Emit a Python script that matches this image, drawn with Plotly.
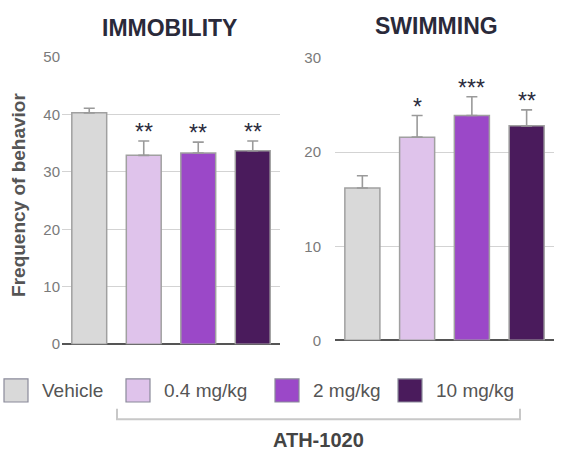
import plotly.graph_objects as go

groups = ["Vehicle", "0.4 mg/kg", "2 mg/kg", "10 mg/kg"]
colors = ["#d9d9d9", "#dfc3eb", "#9b48c8", "#4a1b5c"]

immobility_mean = [40.3, 32.9, 33.3, 33.7]
immobility_sem = [0.8, 2.5, 1.9, 1.7]
immobility_sig = ["", "**", "**", "**"]

swimming_mean = [16.2, 21.6, 23.9, 22.8]
swimming_sem = [1.3, 2.3, 2.0, 1.7]
swimming_sig = ["", "*", "***", "**"]

W, H = 566, 463
def px(x): return x / W
def py(y): return 1 - y / H

fig = go.Figure()

err_style = dict(type="data", symmetric=False, color="#9a9a9a", thickness=1.6, width=5.5)

fig.add_trace(go.Bar(
    x=groups, y=immobility_mean, marker=dict(color=colors, line=dict(color="#a0a0a0", width=1.5)),
    error_y=dict(array=immobility_sem, arrayminus=[0]*4, **err_style),
    xaxis="x", yaxis="y", showlegend=False, hoverinfo="skip"))
fig.add_trace(go.Bar(
    x=groups, y=swimming_mean, marker=dict(color=colors, line=dict(color="#a0a0a0", width=1.5)),
    error_y=dict(array=swimming_sem, arrayminus=[0]*4, **err_style),
    xaxis="x2", yaxis="y2", showlegend=False, hoverinfo="skip"))

tickfont = dict(family="Liberation Sans, Arial", size=15, color="#7a7a7a")
grid = "#d3d3d3"

fig.update_layout(
    width=W, height=H, margin=dict(l=0, r=0, t=0, b=0),
    paper_bgcolor="white", plot_bgcolor="white", bargap=0.36,
    xaxis=dict(domain=[px(62), px(280)], showticklabels=False, showgrid=False, zeroline=False,
               showline=False, anchor="y", fixedrange=True),
    yaxis=dict(domain=[py(348), py(50)], range=[0, 50], dtick=10, showgrid=True, gridcolor=grid,
               gridwidth=1.2, zeroline=True, zerolinecolor="#555555", zerolinewidth=2,
               tickfont=tickfont, ticks="", anchor="x", ticklabelstandoff=1, fixedrange=True),
    xaxis2=dict(domain=[px(335), px(554)], showticklabels=False, showgrid=False, zeroline=False,
                showline=False, anchor="y2", fixedrange=True),
    yaxis2=dict(domain=[py(344), py(51)], range=[0, 30], dtick=10, showgrid=True, gridcolor=grid,
                gridwidth=1.2, zeroline=True, zerolinecolor="#555555", zerolinewidth=2,
                tickfont=tickfont, ticks="", anchor="x2", ticklabelstandoff=13, fixedrange=True),
)

star_font = dict(family="Liberation Sans, Arial", size=23, color="#2b2b3d")
ann = []
for g, m, s, sig in zip(groups, immobility_mean, immobility_sem, immobility_sig):
    if sig:
        ann.append(dict(x=g, y=m + s, xref="x", yref="y", text=sig, showarrow=False,
                        yanchor="bottom", yshift=-6, font=star_font))
for g, m, s, sig in zip(groups, swimming_mean, swimming_sem, swimming_sig):
    if sig:
        ann.append(dict(x=g, y=m + s, xref="x2", yref="y2", text=sig, showarrow=False,
                        yanchor="bottom", yshift=-6, font=star_font))

title_font = dict(family="Liberation Sans, Arial", size=23, color="#2a2a3a")
ann.append(dict(x=px(169), y=py(20), xref="paper", yref="paper", text="<b>IMMOBILITY</b>",
                showarrow=False, xanchor="center", yanchor="middle", font=title_font))
ann.append(dict(x=px(436), y=py(18), xref="paper", yref="paper", text="<b>SWIMMING</b>",
                showarrow=False, xanchor="center", yanchor="middle", font=title_font))
ann.append(dict(x=px(19), y=py(193), xref="paper", yref="paper", text="<b>Frequency of behavior</b>",
                showarrow=False, textangle=-90, xanchor="center", yanchor="middle",
                font=dict(family="Liberation Sans, Arial", size=19, color="#555555")))

shapes = []
box_x = [4, 126, 275, 398]
for bx, c, g in zip(box_x, colors, groups):
    shapes.append(dict(type="rect", xref="paper", yref="paper", x0=px(bx), x1=px(bx + 24),
                       y0=py(408), y1=py(384), fillcolor=c, line=dict(color="#8a8a9a", width=1.2)))
    ann.append(dict(x=px(bx + 36), y=py(396), xref="paper", yref="paper", text=g, showarrow=False,
                    xanchor="left", yanchor="middle",
                    font=dict(family="Liberation Sans, Arial", size=19, color="#555555")))

shapes.append(dict(type="path", xref="paper", yref="paper",
                   path=f"M {px(117)},{py(415)} L {px(117)},{py(426)} L {px(520)},{py(426)} L {px(520)},{py(415)}",
                   line=dict(color="#c8c8c8", width=2)))
ann.append(dict(x=px(318), y=py(447), xref="paper", yref="paper", text="<b>ATH-1020</b>",
                showarrow=False, xanchor="center", yanchor="middle",
                font=dict(family="Liberation Sans, Arial", size=20, color="#444444")))

fig.update_layout(annotations=ann, shapes=shapes)
fig.write_html("out.html", config={"displayModeBar": False},
               post_script="document.body.style.margin='0px';")
